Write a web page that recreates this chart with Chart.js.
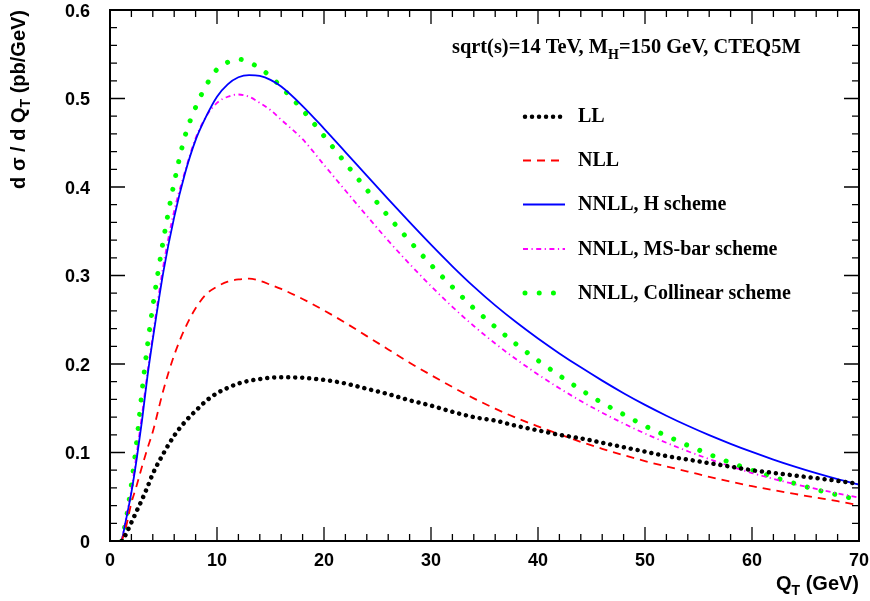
<!DOCTYPE html>
<html><head><meta charset="utf-8">
<script src="https://cdn.jsdelivr.net/npm/chart.js@4.4.1/dist/chart.umd.min.js"></script>
<style>html,body{margin:0;padding:0;background:#fff;}canvas{display:block;}</style>
</head><body>
<canvas id="c" width="870" height="601"></canvas>
<script>
// ---- data ----
const qt = [1.1,1.5,2,2.5,3,3.5,4,5,6,7,8,9,10,11,12,13,14,15,16,18,20,22,24,26,28,30,32,34,36,38,40,42,44,46,48,50,52,54,56,58,60,62,64,66,68,70];
const LL = [0,0.008,0.021,0.034,0.047,0.061,0.076,0.099,0.119,0.1345,0.147,0.1585,0.167,0.173,0.178,0.181,0.183,0.1845,0.185,0.1845,0.182,0.178,0.172,0.166,0.159,0.153,0.146,0.140,0.136,0.130,0.125,0.120,0.116,0.111,0.106,0.101,0.096,0.092,0.088,0.084,0.080,0.077,0.074,0.071,0.068,0.0645];
const NLL = [0,0.016,0.043,0.063,0.0845,0.1045,0.1235,0.171,0.210,0.240,0.263,0.279,0.2875,0.293,0.2955,0.2964,0.294,0.2895,0.2848,0.2735,0.2606,0.2465,0.2315,0.2165,0.2015,0.1875,0.174,0.1612,0.1495,0.139,0.1295,0.1205,0.112,0.1042,0.097,0.0903,0.0842,0.0785,0.0725,0.067,0.062,0.0575,0.0532,0.049,0.045,0.0405];
const NNLL_H = [0,0.024,0.055,0.093,0.137,0.186,0.228,0.305,0.366,0.415,0.453,0.480,0.502,0.516,0.524,0.5265,0.5255,0.521,0.5135,0.4915,0.466,0.4395,0.4128,0.3862,0.3602,0.3348,0.3104,0.2874,0.2662,0.2468,0.2288,0.212,0.1962,0.1812,0.167,0.1538,0.1416,0.1302,0.1196,0.1098,0.1006,0.092,0.084,0.0766,0.0698,0.0638];
const NNLL_MS = [0,0.026,0.058,0.099,0.143,0.190,0.232,0.312,0.373,0.417,0.455,0.480,0.495,0.502,0.5045,0.502,0.495,0.487,0.476,0.454,0.425,0.396,0.3674,0.3394,0.313,0.288,0.2646,0.243,0.2232,0.205,0.1882,0.1726,0.1582,0.145,0.1328,0.1214,0.111,0.1014,0.0926,0.0844,0.0768,0.0702,0.0642,0.0588,0.0538,0.049];
const NNLL_COL = [0,0.024,0.064,0.113,0.170,0.221,0.265,0.341,0.405,0.457,0.490,0.515,0.533,0.541,0.5445,0.541,0.534,0.525,0.513,0.487,0.4576,0.427,0.397,0.367,0.339,0.312,0.287,0.263,0.242,0.222,0.204,0.187,0.171,0.156,0.143,0.130,0.119,0.108,0.098,0.0885,0.080,0.0722,0.065,0.058,0.052,0.0463];
const seriesNames = ['LL','NLL','NNLL, H scheme','NNLL, MS-bar scheme','NNLL, Collinear scheme'];
const xTickLabels = ['0','10','20','30','40','50','60','70'];
const yTickLabels = ['0','0.1','0.2','0.3','0.4','0.5','0.6'];
const annotation = ['sqrt(s)=14 TeV, M', 'H', '=150 GeV, CTEQ5M'];

const pts = arr => qt.map((q,i)=>({x:q,y:arr[i]}));
const base = {pointRadius:0, fill:false, cubicInterpolationMode:'monotone', borderCapStyle:'butt'};
const datasets = [
  Object.assign({}, base, {label:seriesNames[0], data:pts(LL), borderColor:'#000000', borderWidth:4.5, borderDash:[0.01,7], borderCapStyle:'round'}),
  Object.assign({}, base, {label:seriesNames[1], data:pts(NLL), borderColor:'#ff0000', borderWidth:1.8, borderDash:[8,6]}),
  Object.assign({}, base, {label:seriesNames[2], data:pts(NNLL_H), borderColor:'#0000ff', borderWidth:1.8}),
  Object.assign({}, base, {label:seriesNames[3], data:pts(NNLL_MS), borderColor:'#ff00ff', borderWidth:1.8, borderDash:[5,3.5,1.2,3.5]}),
  Object.assign({}, base, {label:seriesNames[4], data:pts(NNLL_COL), borderColor:'#00ff00', borderWidth:5, borderDash:[0.01,14.2], borderCapStyle:'round'})
];

const SANS = '"Liberation Sans", Arial, Helvetica, sans-serif';
const SERIF = '"Liberation Serif", "Times New Roman", serif';

function drawSegs(ctx, x, y, segs, font, subFont, subDy){
  let cx = x;
  for (const [t, sub] of segs){
    ctx.font = sub ? subFont : font;
    ctx.fillText(t, cx, y + (sub ? subDy : 0));
    cx += ctx.measureText(t).width;
  }
  return cx;
}
function segsWidth(ctx, segs, font, subFont){
  let w = 0;
  for (const [t, sub] of segs){ ctx.font = sub ? subFont : font; w += ctx.measureText(t).width; }
  return w;
}

const decor = {
  id:'decor',
  afterDatasetsDraw(chart){
    const {ctx, chartArea:a, scales:{x, y}} = chart;
    ctx.save();
    ctx.strokeStyle = '#000';
    ctx.lineCap = 'butt';
    ctx.setLineDash([]);
    // ticks inside the frame
    ctx.lineWidth = 1.3;
    ctx.beginPath();
    for (let i = 0; i <= 35; i++){
      const v = i*2, px = x.getPixelForValue(v), len = (i%5===0) ? 14 : 7;
      ctx.moveTo(px, a.bottom); ctx.lineTo(px, a.bottom - len);
      ctx.moveTo(px, a.top); ctx.lineTo(px, a.top + len);
    }
    for (let i = 0; i <= 30; i++){
      const v = i*0.02, py = y.getPixelForValue(v), len = (i%5===0) ? 15 : 7;
      ctx.moveTo(a.left, py); ctx.lineTo(a.left + len, py);
      ctx.moveTo(a.right, py); ctx.lineTo(a.right - len, py);
    }
    ctx.stroke();
    // frame
    ctx.lineWidth = 2;
    ctx.strokeRect(a.left, a.top, a.right - a.left, a.bottom - a.top);

    ctx.fillStyle = '#000';
    // annotation
    ctx.textAlign = 'left'; ctx.textBaseline = 'alphabetic';
    drawSegs(ctx, 452, 53, [[annotation[0],false],[annotation[1],true],[annotation[2],false]],
      'bold 20.4px '+SERIF, 'bold 14px '+SERIF, 6);

    // legend
    const ly = [116.7, 160.5, 204.5, 249, 293];
    chart.data.datasets.forEach((ds, i) => {
      ctx.save();
      ctx.strokeStyle = ds.borderColor;
      ctx.lineWidth = ds.borderWidth;
      ctx.lineCap = ds.borderCapStyle || 'butt';
      ctx.setLineDash(ds.borderDash || []);
      ctx.beginPath();
      const x0 = (ds.borderCapStyle === 'round') ? 525 : 523;
      ctx.moveTo(x0, ly[i]); ctx.lineTo(565, ly[i]);
      ctx.stroke();
      ctx.restore();
      ctx.font = 'bold 20px '+SERIF;
      ctx.fillStyle = '#000';
      ctx.fillText(ds.label, 578, ly[i] + 5.5);
    });

    // x axis title (right aligned)
    const xf = 'bold 20px '+SANS, xs = 'bold 14px '+SANS;
    const xsegs = [['Q',false],['T',true],[' (GeV)',false]];
    const xw = segsWidth(ctx, xsegs, xf, xs);
    drawSegs(ctx, 859 - xw, 590, xsegs, xf, xs, 5);

    // y axis title (rotated, right aligned at top)
    ctx.save();
    ctx.translate(25, 10);
    ctx.rotate(-Math.PI/2);
    const ysegs = [['d \u03c3 / d Q',false],['T',true],[' (pb/GeV)',false]];
    const yw = segsWidth(ctx, ysegs, xf, xs);
    drawSegs(ctx, -yw, 0, ysegs, xf, xs, 5);
    ctx.restore();

    ctx.restore();
  }
};

const zeroPad = s => { s.paddingTop = 0; s.paddingBottom = 0; s.paddingLeft = 0; s.paddingRight = 0; };

new Chart(document.getElementById('c'), {
  type:'line',
  data:{datasets},
  options:{
    responsive:false, animation:false, devicePixelRatio:1,
    layout:{padding:{top:10, right:11, left:0, bottom:0}},
    plugins:{legend:{display:false}, tooltip:{enabled:false}},
    scales:{
      x:{type:'linear', min:0, max:70,
        grid:{display:false, drawTicks:false}, border:{display:false},
        afterFit: s => { s.height = 60; zeroPad(s); },
        afterBuildTicks: s => { s.ticks = xTickLabels.map(t => ({value:Number(t)})); },
        ticks:{padding:9, color:'#000', font:{family:SANS, size:18, weight:'bold'},
          callback:(v)=> xTickLabels.find(t=>Number(t)===v) ?? '' , maxRotation:0, autoSkip:false}
      },
      y:{type:'linear', min:0, max:0.6,
        grid:{display:false, drawTicks:false}, border:{display:false},
        afterFit: s => { s.width = 110; zeroPad(s); },
        afterBuildTicks: s => { s.ticks = yTickLabels.map(t => ({value:Number(t)})); },
        ticks:{padding:20, labelOffset:2, color:'#000', font:{family:SANS, size:18, weight:'bold'},
          callback:(v)=> yTickLabels.find(t=>Math.abs(Number(t)-v)<1e-9) ?? '', autoSkip:false}
      }
    }
  },
  plugins:[decor]
});
</script>
</body></html>
